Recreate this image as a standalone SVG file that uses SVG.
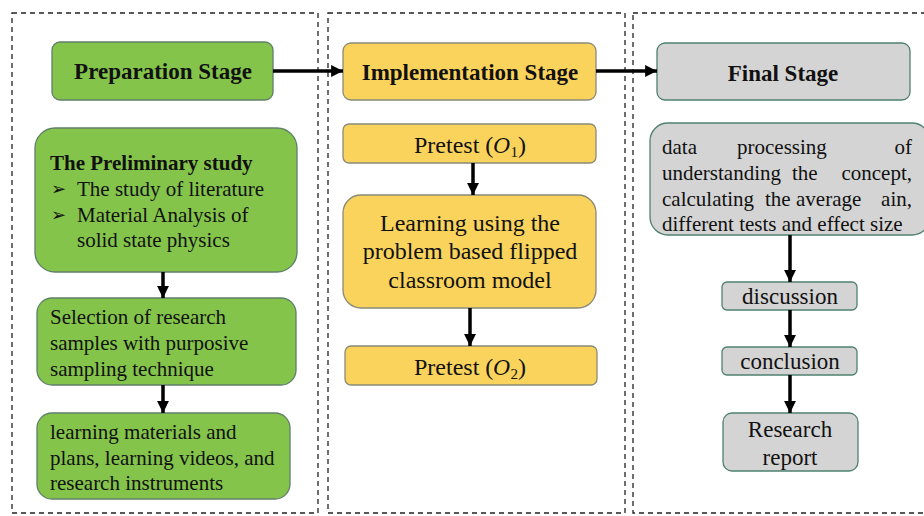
<svg xmlns="http://www.w3.org/2000/svg" width="924" height="516" viewBox="0 0 924 516">
<style>
text{font-family:"Liberation Serif","Times New Roman",serif;fill:#111;font-size:21px}
.t{font-weight:bold;font-size:23px;text-anchor:middle}
.c{text-anchor:middle}
.e{text-anchor:end}
.m{font-size:23px}
.panel{fill:none;stroke:#222;stroke-width:1.3;stroke-dasharray:5,4}
.g{fill:#84C44B;stroke:#5f7f6a;stroke-width:1.3}
.y{fill:#FAD35C;stroke:#8a8a78;stroke-width:1.3}
.s{fill:#D4D4D4;stroke:#4f8070;stroke-width:1.3}
.a{stroke:#000;stroke-width:3.5;fill:none}
.b{font-family:"DejaVu Sans",sans-serif;font-size:18px}
</style>
<defs>
<marker id="ah" viewBox="0 0 10 10" refX="10" refY="5" markerWidth="3.4" markerHeight="3.4" markerUnits="strokeWidth" orient="auto">
<path d="M0,0 L10,5 L0,10 z" fill="#000"/>
</marker>
</defs>
<rect width="924" height="516" fill="#fff"/>
<g id="panels">
<rect class="panel" x="12" y="13" width="306" height="500"/>
<rect class="panel" x="328" y="13" width="297" height="500"/>
<rect class="panel" x="633" y="13" width="300" height="500"/>
</g>
<g id="prep">
<rect class="g" x="52" y="42" width="221" height="58" rx="8"/>
<text class="t" x="163" y="79">Preparation Stage</text>
</g>
<g id="prelim">
<rect class="g" x="35" y="128" width="262" height="144" rx="20"/>
<text x="50" y="170" style="font-weight:bold">The Preliminary study</text>
<text class="b" x="51" y="195">➢</text>
<text x="77" y="196">The study of literature</text>
<text class="b" x="51" y="221">➢</text>
<text x="77" y="222">Material Analysis of</text>
<text x="77" y="247">solid state physics</text>
</g>
<g id="selection">
<rect class="g" x="37" y="298" width="259" height="87" rx="15"/>
<text x="50" y="324">Selection of research</text>
<text x="50" y="350">samples with purposive</text>
<text x="50" y="376">sampling technique</text>
</g>
<g id="materials">
<rect class="g" x="37" y="413" width="253" height="86" rx="15"/>
<text x="50" y="439">learning materials and</text>
<text x="50" y="465">plans, learning videos, and</text>
<text x="50" y="490">research instruments</text>
</g>
<g id="impl">
<rect class="y" x="343" y="43" width="253" height="57" rx="8"/>
<text class="t" x="470" y="80">Implementation Stage</text>
</g>
<g id="pre1">
<rect class="y" x="343" y="124" width="253" height="39" rx="6"/>
<text class="c" x="470" y="153" style="font-size:24px">Pretest (<tspan style="font-style:italic;font-family:'DejaVu Serif',serif;font-size:21px">O</tspan><tspan style="font-size:15px" dy="4">1</tspan><tspan dy="-4">)</tspan></text>
</g>
<g id="learn">
<rect class="y" x="343" y="195" width="253" height="113" rx="18"/>
<text class="c" x="470" y="231" style="font-size:24px">Learning using the</text>
<text class="c" x="470" y="259" style="font-size:24px">problem based flipped</text>
<text class="c" x="470" y="288" style="font-size:24px">classroom model</text>
</g>
<g id="pre2">
<rect class="y" x="345" y="346" width="252" height="39" rx="6"/>
<text class="c" x="470" y="375" style="font-size:24px">Pretest (<tspan style="font-style:italic;font-family:'DejaVu Serif',serif;font-size:21px">O</tspan><tspan style="font-size:15px" dy="4">2</tspan><tspan dy="-4">)</tspan></text>
</g>
<g id="final">
<rect class="s" x="657" y="43" width="253" height="57" rx="8"/>
<text class="t" x="783" y="81">Final Stage</text>
</g>
<g id="data">
<rect class="s" x="650" y="123" width="280" height="112" rx="18"/>
<text x="662" y="154">data</text>
<text x="737" y="154">processing</text>
<text class="e" x="912" y="154">of</text>
<text x="662" y="180">understanding</text>
<text x="792" y="180">the</text>
<text class="e" x="912" y="180">concept,</text>
<text x="662" y="206">calculating</text>
<text x="765" y="206">the</text>
<text x="796" y="206">average</text>
<text class="e" x="912" y="206">ain,</text>
<text x="662" y="231">different tests and  effect size</text>
</g>
<g id="discussion">
<rect class="s" x="722" y="282" width="135" height="28" rx="5"/>
<text class="c m" x="790" y="304">discussion</text>
</g>
<g id="conclusion">
<rect class="s" x="722" y="347" width="135" height="28" rx="5"/>
<text class="c m" x="790" y="369">conclusion</text>
</g>
<g id="report">
<rect class="s" x="723" y="413" width="135" height="58" rx="9"/>
<text class="c m" x="790" y="437">Research</text>
<text class="c m" x="790" y="465">report</text>
</g>
<g id="connectors">
<line class="a" x1="273" y1="71" x2="343" y2="71" marker-end="url(#ah)"/>
<line class="a" x1="596" y1="71" x2="657" y2="71" marker-end="url(#ah)"/>
<line class="a" x1="163" y1="272" x2="163" y2="298" marker-end="url(#ah)"/>
<line class="a" x1="163" y1="385" x2="163" y2="413" marker-end="url(#ah)"/>
<line class="a" x1="473" y1="163" x2="473" y2="195" marker-end="url(#ah)"/>
<line class="a" x1="470" y1="308" x2="470" y2="346" marker-end="url(#ah)"/>
<line class="a" x1="790" y1="235" x2="790" y2="282" marker-end="url(#ah)"/>
<line class="a" x1="790" y1="310" x2="790" y2="347" marker-end="url(#ah)"/>
<line class="a" x1="790" y1="375" x2="790" y2="413" marker-end="url(#ah)"/>
</g>
</svg>
